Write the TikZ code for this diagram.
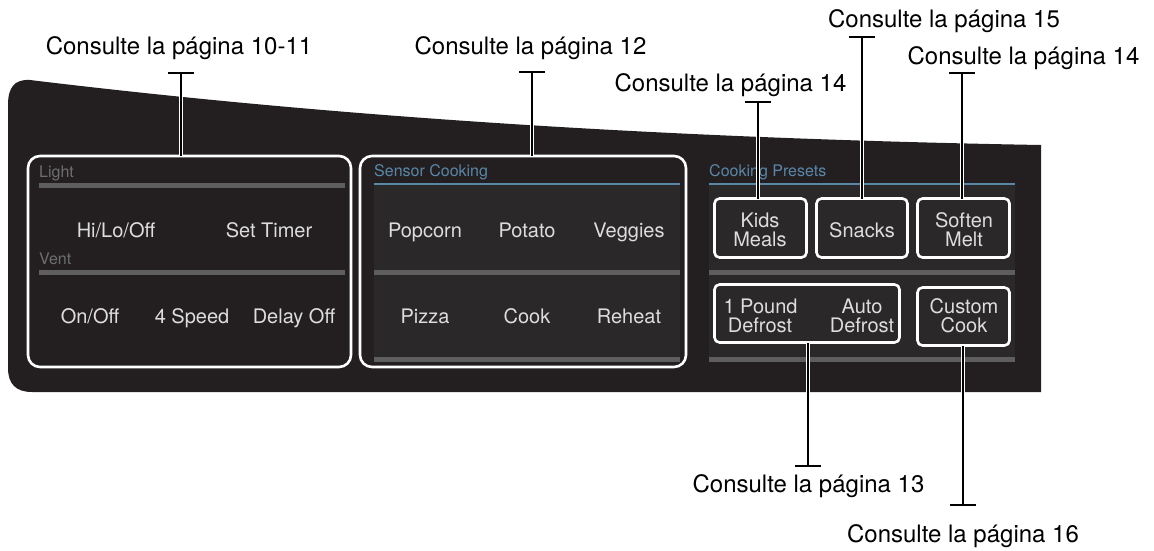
\documentclass[tikz,border=0pt]{standalone}
\usepackage{fontspec}
\setmainfont{TeX Gyre Heros}
\definecolor{panel}{HTML}{231F20}
\definecolor{innerc}{HTML}{2A2829}
\definecolor{barc}{HTML}{5E5E5F}
\definecolor{blu}{HTML}{5A87A8}
\definecolor{btntxt}{HTML}{DDDDDD}
\definecolor{dimc}{HTML}{6E6E6E}
\begin{document}
\begin{tikzpicture}[x=1pt,y=-1pt,
  sect/.style={draw=white, line width=2.6pt, rounded corners=12pt, inner sep=0pt, outer sep=0pt},
  btn/.style={draw=white, line width=2.6pt, rounded corners=5pt, inner sep=0pt, outer sep=0pt},
  btxt/.style={text=btntxt, font=\fontsize{20}{20}\selectfont, inner sep=0pt, anchor=base},
  lbl/.style={text=black, font=\fontsize{24}{28}\selectfont, inner sep=0pt, anchor=base},
  sml/.style={font=\fontsize{16}{18}\selectfont, inner sep=0pt, anchor=base west},
  leader/.style={draw=white, double=black, double distance=2pt, line width=1.4pt},
  tbar/.style={draw=black, line width=2pt},
]
\useasboundingbox (0,0) rectangle (1154,550);
% panel
\fill[panel] (8,105) .. controls (8,88) and (14,79) .. (30,80)
  .. controls (360,120) and (700,139) .. (1041,145)
  -- (1041,392) -- (32,392) .. controls (16,392) and (8,384) .. (8,368) -- cycle;
% inner shading
\fill[innerc] (374,185) rectangle (680,362);
\fill[innerc] (709,185) rectangle (1015,362);
% bars
\fill[barc] (39,183) rectangle (345,188);
\fill[barc] (39,270) rectangle (345,275);
\fill[barc] (374,270) rectangle (680,275);
\fill[barc] (374,357) rectangle (680,362);
\fill[barc] (709,270) rectangle (1015,275);
\fill[barc] (709,357) rectangle (1015,362);
\draw[blu, line width=2pt] (374,184) -- (680,184);
\draw[blu, line width=2pt] (709,184) -- (1015,184);
% section labels
\node[sml, text=dimc] (light) at (39,177) {Light};
\node[sml, text=dimc] (vent) at (39,264) {Vent};
\node[sml, text=blu] (sensor) at (374,176) {Sensor Cooking};
\node[sml, text=blu] (presets) at (709,176) {Cooking Presets};
% section boxes
\node[sect, minimum width=323pt, minimum height=211pt] (lbox) at (189.5,261.5) {};
\node[sect, minimum width=326pt, minimum height=211pt] (mbox) at (523,261.5) {};
% buttons
\node[btn, minimum width=92pt, minimum height=59pt] (kids) at (760.5,228) {};
\node[btn, minimum width=91pt, minimum height=59pt] (snacks) at (862,228) {};
\node[btn, minimum width=92pt, minimum height=59pt] (soften) at (963.5,228) {};
\node[btn, minimum width=185pt, minimum height=58pt] (pound) at (807,313.5) {};
\node[btn, minimum width=92pt, minimum height=58pt] (custom) at (963.5,316.5) {};
% button texts
\node[btxt] (hilo) at (116,237) {Hi/Lo/Off};
\node[btxt] (timer) at (269,237) {Set Timer};
\node[btxt] (onoff) at (90,323) {On/Off};
\node[btxt] (speed) at (192,323) {4 Speed};
\node[btxt] (delay) at (294,323) {Delay Off};
\node[btxt] (popcorn) at (425,237) {Popcorn};
\node[btxt] (potato) at (527,237) {Potato};
\node[btxt] (veggies) at (629,237) {Veggies};
\node[btxt] (pizza) at (425,323) {Pizza};
\node[btxt] (cook) at (527,323) {Cook};
\node[btxt] (reheat) at (629,323) {Reheat};
\node[btxt] (kidsA) at (760,227) {Kids};
\node[btxt] (kidsB) at (760,246) {Meals};
\node[btxt] (snacksT) at (862,237) {Snacks};
\node[btxt] (softA) at (964,227) {Soften};
\node[btxt] (softB) at (964,246) {Melt};
\node[btxt] (poundA) at (760.5,313) {1 Pound};
\node[btxt] (poundB) at (760,332) {Defrost};
\node[btxt] (autoA) at (862,313) {Auto};
\node[btxt] (autoB) at (862,332) {Defrost};
\node[btxt] (custA) at (964,313) {Custom};
\node[btxt] (custB) at (964,332) {Cook};
% callout labels
\node[lbl] (l1) at (179,54) {Consulte la página 10-11};
\node[lbl] (l2) at (530.5,54) {Consulte la página 12};
\node[lbl] (l3) at (730.5,91) {Consulte la página 14};
\node[lbl] (l4) at (944,27) {Consulte la página 15};
\node[lbl] (l5) at (1023.5,64) {Consulte la página 14};
\node[lbl] (l6) at (808.5,492) {Consulte la página 13};
\node[lbl] (l7) at (963,542) {Consulte la página 16};
% leader ends
\coordinate (t1) at (181,73);
\coordinate (t2) at (532,72);
\coordinate (t3) at (758,102);
\coordinate (t4) at (862,37);
\coordinate (t5) at (962,73);
\coordinate (t6) at (808,466);
\coordinate (t7) at (963,505);
% leaders
\draw[leader] (t1) -- (t1 |- lbox.north);
\draw[leader] (t2) -- (t2 |- mbox.north);
\draw[leader] (t3) -- (t3 |- kids.north);
\draw[leader] (t4) -- (t4 |- snacks.north);
\draw[leader] (t5) -- (t5 |- soften.north);
\draw[leader] (t6) -- (t6 |- pound.south);
\draw[leader] (t7) -- (t7 |- custom.south);
% T bars
\foreach \t in {t1,t2,t3,t4,t5,t6,t7}
  \draw[tbar] ([xshift=-13pt]\t) -- ([xshift=13pt]\t);
\end{tikzpicture}
\end{document}
